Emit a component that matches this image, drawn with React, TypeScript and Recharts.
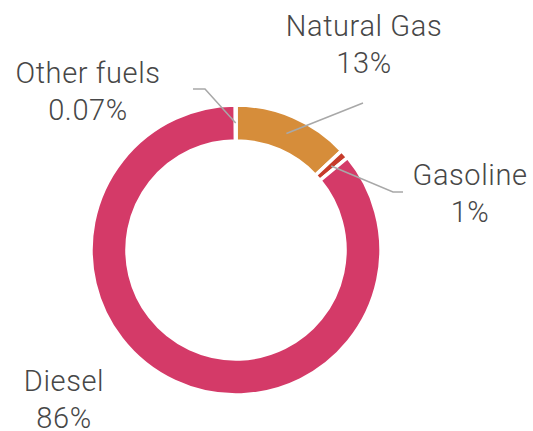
import React from "react";
import { PieChart, Pie, Cell } from "recharts";

const fuels = ["Natural Gas", "Gasoline", "Diesel", "Other fuels"];
const shares = [13, 1, 86, 0.07];
const colors = ["#D68D3A", "#C63B2B", "#D43A68", "#D43A68"];

const data = fuels.map((name, i) => ({ name, value: shares[i] }));

// where each label text sits and how its leader line bends
const labelLayout: Record<string, { x: number; y: number; line?: [number, number][] }> = {
  "Natural Gas": { x: 364, y: 36, line: [[363, 103]] },
  Gasoline: { x: 470, y: 185, line: [[393, 192], [403, 192]] },
  Diesel: { x: 64, y: 391 },
  "Other fuels": { x: 88, y: 83, line: [[205, 89], [193, 89]] },
};

const RAD = Math.PI / 180;

function renderLabel(props: any) {
  const { cx, cy, midAngle, innerRadius, outerRadius, name, value } = props;
  const l = labelLayout[name];
  if (!l) return null;
  const r = (innerRadius + outerRadius) / 2;
  const sx = cx + r * Math.cos(-midAngle * RAD);
  const sy = cy + r * Math.sin(-midAngle * RAD);
  const pts = l.line ? [[sx, sy], ...l.line] : null;
  return (
    <g>
      {pts && (
        <polyline points={pts.map((p) => p.join(",")).join(" ")} fill="none" stroke="#A8A8A8" strokeWidth={1.5} />
      )}
      <text
        x={l.x}
        y={l.y}
        textAnchor="middle"
        fill="#474747"
        fontSize={29}
        fontWeight={300}
        letterSpacing={0.6}
        fontFamily="Roboto, sans-serif"
      >
        <tspan x={l.x}>{name}</tspan>
        <tspan x={l.x} dy={37}>{value}%</tspan>
      </text>
    </g>
  );
}

export default function App() {
  return (
    <div style={{ position: "absolute", left: 0, top: 0, background: "#fff" }}>
      <PieChart width={533} height={431} margin={{ top: 0, right: 0, bottom: 0, left: 0 }}>
        <Pie
          data={data}
          dataKey="value"
          nameKey="name"
          cx={236}
          cy={250}
          innerRadius={109}
          outerRadius={145}
          startAngle={90}
          endAngle={-270}
          stroke="#fff"
          strokeWidth={3.5}
          label={renderLabel}
          labelLine={false}
          isAnimationActive={false}
        >
          {data.map((d, i) => (
            <Cell key={d.name} fill={colors[i]} />
          ))}
        </Pie>
      </PieChart>
    </div>
  );
}
